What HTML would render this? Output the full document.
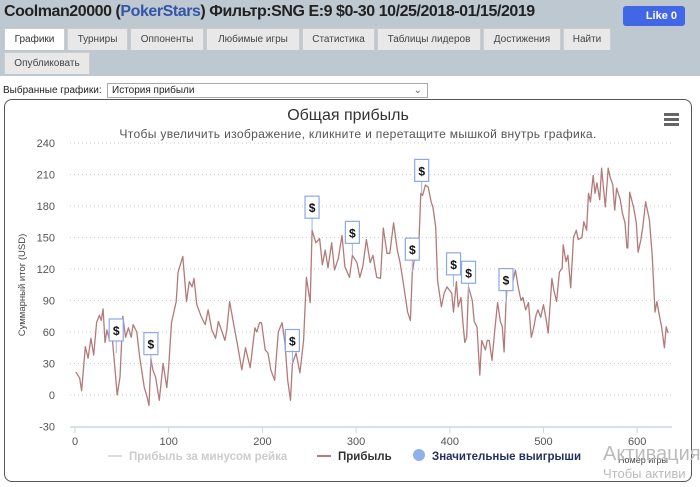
<!DOCTYPE html>
<html><head><meta charset="utf-8">
<style>
body{margin:0;width:700px;height:487px;overflow:hidden;background:#fff;font-family:"Liberation Sans","DejaVu Sans",sans-serif;position:relative}
#top{position:absolute;left:0;top:0;width:700px;height:76px;background:#bec8d1}
#hdr{position:absolute;left:4px;top:3px;font-size:16px;font-weight:bold;color:#222;letter-spacing:-0.45px}
#hdr span{color:#3355aa}
#like{position:absolute;left:623px;top:6px;width:62px;height:20px;background:#4267e6;border-radius:3px;color:#fff;font-size:11px;font-weight:bold;line-height:20px;text-align:right;padding-right:8px;box-sizing:border-box}
.tab{position:absolute;height:22px;background:#e8e8e8;border:1px solid #ccc;border-bottom:none;font-size:10px;color:#444;line-height:22px;text-align:center;box-sizing:border-box}
#lbl{position:absolute;left:3px;top:85px;font-size:10px;color:#222}
#sel{position:absolute;left:107px;top:83px;width:321px;height:15px;border:1px solid #aaa;font-size:10px;line-height:14px;padding-left:4px;box-sizing:border-box;color:#222}
#box{position:absolute;left:4px;top:99px;width:688px;height:383px;border:1px solid #555;border-radius:8px;box-sizing:border-box}
svg{position:absolute;left:0;top:0}
</style></head><body>
<div id="top"></div>
<div id="hdr">Coolman20000 (<span>PokerStars</span>) Фильтр:SNG E:9 $0-30 10/25/2018-01/15/2019</div>
<div id="like">Like 0</div>
<div class="tab" style="left:4px;top:28px;width:61px;background:#fff;color:#333">Графики</div>
<div class="tab" style="left:67px;top:28px;width:61px">Турниры</div>
<div class="tab" style="left:130px;top:28px;width:74px">Оппоненты</div>
<div class="tab" style="left:206px;top:28px;width:94px">Любимые игры</div>
<div class="tab" style="left:302px;top:28px;width:73px">Статистика</div>
<div class="tab" style="left:377px;top:28px;width:104px">Таблицы лидеров</div>
<div class="tab" style="left:483px;top:28px;width:78px">Достижения</div>
<div class="tab" style="left:563px;top:28px;width:48px">Найти</div>
<div class="tab" style="left:4px;top:52px;width:86px">Опубликовать</div>
<div id="lbl">Выбранные графики:</div>
<div id="sel">История прибыли<span style="position:absolute;right:5px;top:0;color:#666">&#8964;</span></div>
<div id="box"></div>
<svg id="chart" width="700" height="487"></svg>
<div style="position:absolute;left:603px;top:443px;font-size:20px;color:#bbb">Активация</div>
<div style="position:absolute;left:603px;top:466px;font-size:13px;color:#bbb">Чтобы активи</div>
<script>
const yTicks=[-30,0,30,60,90,120,150,180,210,240];
const xTicks=[0,100,200,300,400,500,600];
const games=[1,5,7,9,11,14,17,20,23,26,28,30,32,34,37,40,45,48,51,54,57,60,62,66,69,74,77,79,81,83,86,90,94,98,100,103,108,110,115,119,122,125,127,130,135,139,142,146,150,153,157,160,162,165,169,173,178,182,187,192,194,197,199,203,206,209,213,217,221,224,227,230,232,236,240,244,247,251,253,257,261,264,267,270,274,277,281,285,288,293,296,301,304,307,311,315,318,322,326,329,333,336,340,344,347,351,355,358,360,362,365,367,369,371,374,377,380,382,385,387,391,394,397,402,404,407,409,412,414,416,418,420,424,426,429,432,434,438,440,442,445,448,451,454,456,458,460,462,466,470,473,476,478,481,484,487,489,492,494,497,500,503,505,509,511,514,517,520,521,524,526,529,532,535,537,541,543,546,548,550,553,555,557,560,562,566,569,571,574,576,578,582,584,587,589,590,592,596,599,601,604,606,609,613,616,619,621,624,626,629,631,633];
const profit=[22,16,4,24,46,35,54,38,69,76,71,82,50,62,52,52,0,17,75,55,64,55,67,60,36,7,-2,-10,35,24,17,-5,30,7,27,69,89,117,132,89,108,103,111,86,74,67,81,62,54,70,60,52,62,89,69,50,24,45,26,64,60,69,69,43,40,24,14,60,69,50,14,-5,30,40,21,52,112,88,157,145,149,124,138,121,145,119,130,152,122,112,133,126,112,122,148,126,133,112,111,159,135,135,164,138,126,103,79,71,117,128,148,145,192,190,200,198,184,179,160,109,84,97,103,97,79,108,84,93,69,50,55,103,90,70,65,19,52,43,52,52,33,62,88,70,65,41,88,116,103,119,103,90,93,81,88,55,62,76,81,74,86,71,59,111,100,89,117,121,143,127,133,102,150,157,148,150,165,157,192,184,209,192,202,186,216,179,216,208,200,176,197,186,174,164,140,140,193,179,164,136,148,160,184,167,133,79,89,74,65,45,65,59];
const markGames=[44,81,232,253,296,360,370,404,420,460];
const markVals=[40,27,30,157,133,117,192,103,95,88];

const svg=document.getElementById('chart');
const NS='http://www.w3.org/2000/svg';
const x0=75,xs=0.937,y0=395,ys=31.5/30;
function X(g){return x0+g*xs;}
function Y(v){return y0-v*ys;}
function mk(t,a,txt){const e=document.createElementNS(NS,t);for(const k in a)e.setAttribute(k,a[k]);if(txt!=null)e.textContent=txt;svg.appendChild(e);return e;}

let e=mk('text',{x:348,y:120,'text-anchor':'middle','font-size':16,fill:'#333'},'Общая прибыль');


e=mk('text',{x:358,y:138,'text-anchor':'middle','font-size':12.1,'letter-spacing':'0.3',fill:'#555'},'Чтобы увеличить изображение, кликните и перетащите мышкой внутрь графика.');


e=mk('g',{});


for(let i=0;i<3;i++){const r=document.createElementNS(NS,'rect');r.setAttribute('x',664);r.setAttribute('y',113+i*5);r.setAttribute('width',15);r.setAttribute('height',3);r.setAttribute('fill','#666');e.appendChild(r);}

yTicks.forEach(v=>{
  if(v>-30){const l=mk('line',{x1:70,x2:672,y1:Y(v),y2:Y(v),stroke:'#ccc','stroke-dasharray':'1,3'});
  
  }
  const t=mk('text',{x:55,y:Y(v)+4,'text-anchor':'end','font-size':11,fill:'#555'},String(v));
  
  
});
e=mk('line',{x1:70,x2:672,y1:427,y2:427,stroke:'#ccd6eb','stroke-width':1.5});


xTicks.forEach(g=>{
  const l=mk('line',{x1:X(g),x2:X(g),y1:427,y2:433,stroke:'#ccd6eb'});
  
  
  const t=mk('text',{x:X(g),y:445,'text-anchor':'middle','font-size':11,fill:'#555'},String(g));
  
  
});
e=mk('text',{x:25,y:285,'text-anchor':'middle','font-size':9.5,fill:'#444',transform:'rotate(-90 25 285)'},'Суммарный итог (USD)');


e=mk('text',{x:668,y:463,'text-anchor':'end','font-size':9,fill:'#444'},'Номер игры');



const pts=games.map((g,i)=>X(g).toFixed(1)+','+Y(profit[i]).toFixed(1)).join(' ');
e=mk('polyline',{points:pts,fill:'none',stroke:'#b47a7a','stroke-width':1.3,'stroke-linejoin':'round'});



markGames.forEach((g,i)=>{
  const px=X(g),py=Y(markVals[i]);
  const s=mk('line',{x1:px,x2:px,y1:py,y2:py-12,stroke:'#9ab4ea'});
  
  
  const r=mk('rect',{x:px-7,y:py-34,width:14,height:22,fill:'#fff',stroke:'#8aa8e8','stroke-width':1.2});
  
  
  const t=mk('text',{x:px,y:py-18,'text-anchor':'middle','font-size':12,'font-weight':'bold',fill:'#111'},'$');
  
  
});

e=mk('line',{x1:108,x2:122,y1:456,y2:456,stroke:'#ddd','stroke-width':2});


e=mk('text',{x:129,y:460,'font-size':11.5,'font-weight':'bold',fill:'#ccc'},'Прибыль за минусом рейка');


e=mk('line',{x1:317,x2:331,y1:456,y2:456,stroke:'#b47a7a','stroke-width':2});


e=mk('text',{x:338,y:460,'font-size':11.5,'font-weight':'bold',fill:'#333'},'Прибыль');


e=mk('circle',{cx:419,cy:455,r:6,fill:'#8fb0ea'});


e=mk('text',{x:432,y:460,'font-size':11.5,'font-weight':'bold',fill:'#1f2f5f'},'Значительные выигрыши');


</script>
</body></html>
